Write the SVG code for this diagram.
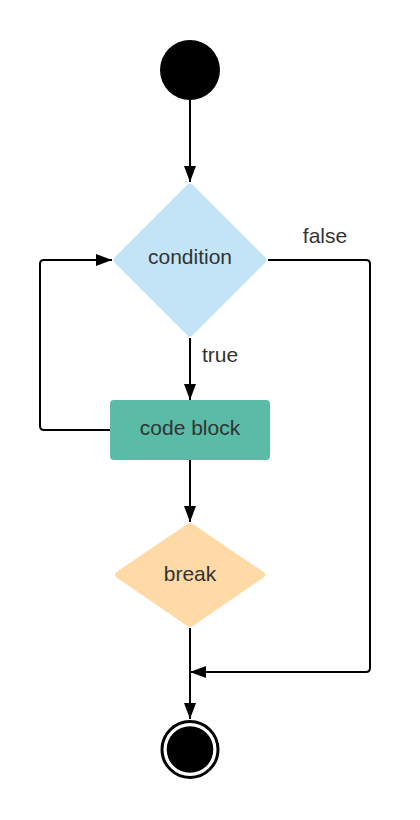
<svg xmlns="http://www.w3.org/2000/svg" width="420" height="820" viewBox="0 0 420 820">
<defs>
<marker id="ah" markerWidth="16" markerHeight="12" refX="16" refY="6" orient="auto" markerUnits="userSpaceOnUse">
<path d="M0,0 L16,6 L0,12 Z" fill="#000"/>
</marker>
<style>
.c{fill:none;stroke:#000;stroke-width:2;stroke-linejoin:round}
.t{font-family:"Liberation Sans",Arial,sans-serif;font-size:21px;fill:#333;text-anchor:middle}
</style>
</defs>
<rect width="420" height="820" fill="#fff"/>
<g id="connectors">
<path class="c" d="M190,100 V182" marker-end="url(#ah)"/>
<path class="c" d="M190,338 V400" marker-end="url(#ah)"/>
<path class="c" d="M190,460 V522" marker-end="url(#ah)"/>
<path class="c" d="M190,628 V719" marker-end="url(#ah)"/>
<path class="c" d="M110,430 H44 Q40,430 40,426 V264 Q40,260 44,260 H112" marker-end="url(#ah)"/>
<path class="c" d="M268,260 H366 Q370,260 370,264 V668 Q370,672 366,672 H190" marker-end="url(#ah)"/>
<text class="t" x="325" y="243">false</text>
<text class="t" x="220" y="362">true</text>
</g>
<g id="start">
<circle cx="190" cy="70" r="30" fill="#000"/>
</g>
<g id="condition">
<path d="M187,185 Q190,182 193,185 L265,257 Q268,260 265,263 L193,335 Q190,338 187,335 L115,263 Q112,260 115,257 Z" fill="#C3E4F7"/>
<text class="t" x="190" y="263.5">condition</text>
</g>
<g id="codeblock">
<rect x="110" y="400" width="160" height="60" rx="4" fill="#5ABBA7"/>
<text class="t" x="190" y="434.5">code block</text>
</g>
<g id="break">
<path d="M186.5,524.5 Q190,522 193.5,524.5 L263.5,572 Q267,575 263.5,577.5 L193.5,625.5 Q190,628 186.5,625.5 L116.5,577.5 Q113,575 116.5,572 Z" fill="#FFD9A6"/>
<text class="t" x="190" y="580.5">break</text>
</g>
<g id="end">
<circle cx="190" cy="749.5" r="28" fill="none" stroke="#000" stroke-width="3"/>
<circle cx="190" cy="749.5" r="23.3" fill="#000"/>
</g>
</svg>
